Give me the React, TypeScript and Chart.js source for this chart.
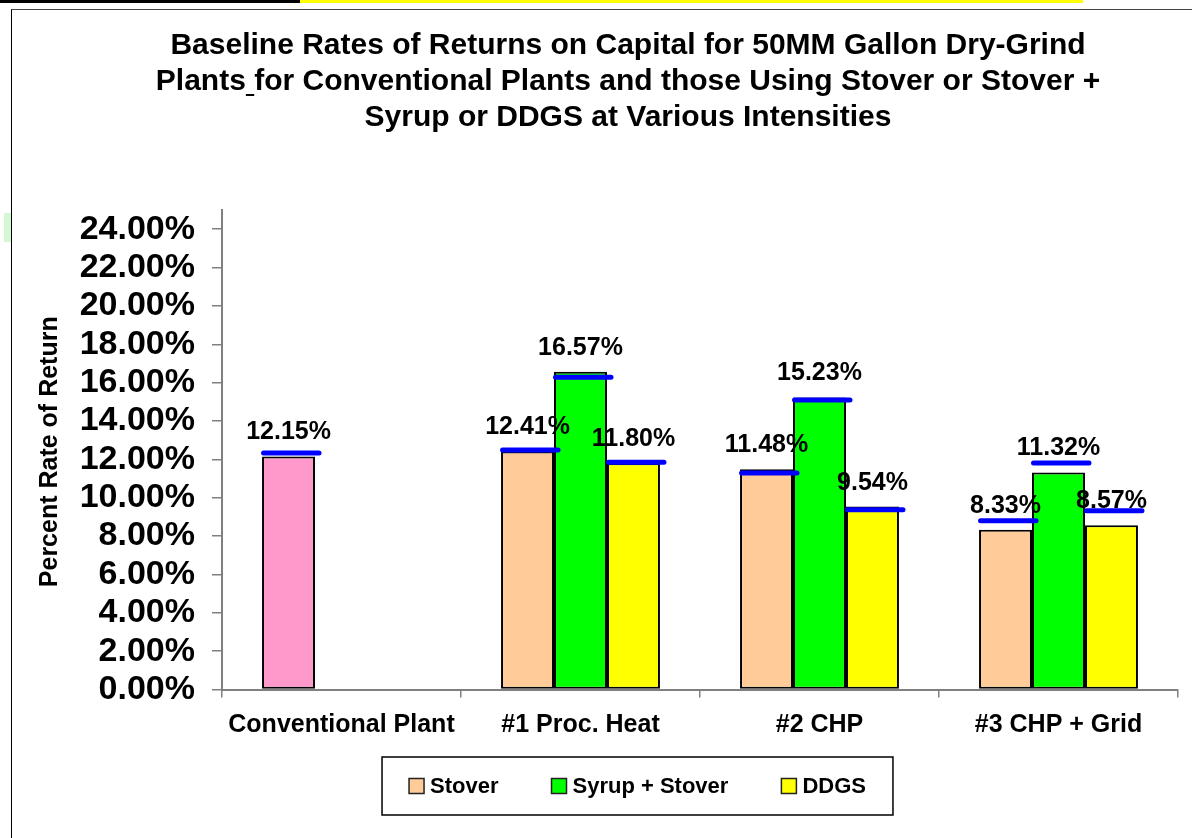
import React, { useEffect, useRef } from 'react';
import { Chart, registerables } from 'chart.js';

Chart.register(...registerables);

// ---------- data ----------
const categories = ['Conventional Plant', '#1 Proc. Heat', '#2 CHP', '#3 CHP + Grid'];
const seriesNames = ['Stover', 'Syrup + Stover', 'DDGS'];
const stoverValues = [12.15, 12.41, 11.48, 8.33];
const syrupStoverValues = [null, 16.57, 15.23, 11.32];
const ddgsValues = [null, 11.8, 9.54, 8.57];
// blue dash markers drawn near the bar tops
const stoverMarkers = [12.33, 12.49, 11.29, 8.8];
const syrupStoverMarkers = [null, 16.28, 15.1, 11.81];
const ddgsMarkers = [null, 11.85, 9.37, 9.32];
const yTickValues = [0, 2, 4, 6, 8, 10, 12, 14, 16, 18, 20, 22, 24];
const titleLines = [
  'Baseline Rates of Returns on Capital for 50MM Gallon Dry-Grind',
  'Plants for Conventional Plants and those Using Stover or Stover +',
  'Syrup or DDGS at Various Intensities',
];
const yAxisTitle = 'Percent Rate of Return';

// ---------- styles ----------
const FONT = "'Liberation Sans', Arial, Helvetica, sans-serif";
const PINK = '#FF99CC';
const PEACH = '#FFCC99';
const GREEN = '#00FF00';
const YELLOW = '#FFFF00';
const BLUE = '#0000FF';
const AXIS_GRAY = '#808080';
const TITLE_SIZE = 30;
const TITLE_PAD_TOP = 28;
const TITLE_LINE = 36;
const legendColors = [PEACH, GREEN, YELLOW];
const markerSets = [stoverMarkers, syrupStoverMarkers, ddgsMarkers];

const fmt = (v: number) => v.toFixed(2) + '%';

const markersPlugin = {
  id: 'blueMarkers',
  afterDatasetsDraw(chart: any) {
    const ctx = chart.ctx;
    const y = chart.scales.y;
    ctx.save();
    ctx.strokeStyle = BLUE;
    ctx.lineWidth = 5;
    ctx.lineCap = 'round';
    markerSets.forEach((set, di) => {
      const meta = chart.getDatasetMeta(di);
      set.forEach((m, i) => {
        if (m == null) return;
        const el = meta.data[i];
        if (!el) return;
        const py = y.getPixelForValue(m);
        ctx.beginPath();
        ctx.moveTo(el.x - el.width / 2 + 1.5, py);
        ctx.lineTo(el.x + el.width / 2 + 4, py);
        ctx.stroke();
      });
    });
    ctx.restore();
  },
};

const labelsPlugin = {
  id: 'valueLabels',
  afterDatasetsDraw(chart: any) {
    const ctx = chart.ctx;
    ctx.save();
    ctx.font = `bold 25px ${FONT}`;
    ctx.fillStyle = '#000';
    ctx.textAlign = 'center';
    ctx.textBaseline = 'alphabetic';
    chart.data.datasets.forEach((ds: any, di: number) => {
      const meta = chart.getDatasetMeta(di);
      ds.data.forEach((v: number | null, i: number) => {
        if (v == null) return;
        const el = meta.data[i];
        ctx.fillText(fmt(v), el.x, el.y - 17);
      });
    });
    ctx.restore();
  },
};

const yTitlePlugin = {
  id: 'yTitle',
  afterDraw(chart: any) {
    const ctx = chart.ctx;
    const a = chart.chartArea;
    ctx.save();
    ctx.translate(57, (a.top + a.bottom) / 2 + 2);
    ctx.rotate(-Math.PI / 2);
    ctx.font = `bold 25px ${FONT}`;
    ctx.fillStyle = '#000';
    ctx.textAlign = 'center';
    ctx.textBaseline = 'alphabetic';
    ctx.fillText(yAxisTitle, 0, 0);
    ctx.restore();
  },
};

const titleUnderlinePlugin = {
  id: 'titleUnderline',
  afterDraw(chart: any) {
    const tb = chart.titleBlock;
    if (!tb) return;
    const ctx = chart.ctx;
    ctx.save();
    ctx.font = `bold ${TITLE_SIZE}px ${FONT}`;
    const line = titleLines[1];
    const w = ctx.measureText(line).width;
    const cx = (tb.left + tb.right) / 2;
    const startX = cx - w / 2 + ctx.measureText('Plants').width;
    const spW = ctx.measureText(' ').width;
    const midY = tb.top + TITLE_PAD_TOP + TITLE_LINE / 2 + TITLE_LINE;
    ctx.fillStyle = '#000';
    ctx.fillRect(startX, midY + 12, spW, 2);
    ctx.restore();
  },
};

const legendPlugin = {
  id: 'boxLegend',
  afterDraw(chart: any) {
    const ctx = chart.ctx;
    ctx.save();
    ctx.font = `bold 22px ${FONT}`;
    const box = 15;
    const gapText = 6;
    const gapItem = 53;
    const padX = 27;
    const widths = seriesNames.map((n) => ctx.measureText(n).width);
    const total =
      widths.reduce((acc, w) => acc + box + gapText + w, 0) + gapItem * (seriesNames.length - 1);
    const cx = 637.5;
    const cy = 786;
    const top = 757;
    const height = 58;
    ctx.strokeStyle = '#000';
    ctx.lineWidth = 1.5;
    ctx.strokeRect(cx - total / 2 - padX, top, total + 2 * padX, height);
    let x = cx - total / 2;
    seriesNames.forEach((name, i) => {
      ctx.fillStyle = legendColors[i];
      ctx.fillRect(x, cy - box / 2, box, box);
      ctx.strokeStyle = '#222';
      ctx.lineWidth = 1.5;
      ctx.strokeRect(x, cy - box / 2, box, box);
      ctx.fillStyle = '#000';
      ctx.textAlign = 'left';
      ctx.textBaseline = 'middle';
      ctx.fillText(name, x + box + gapText, cy + 1);
      x += box + gapText + widths[i] + gapItem;
    });
    ctx.restore();
  },
};

function App() {
  const canvasRef = useRef<HTMLCanvasElement | null>(null);

  useEffect(() => {
    if (!canvasRef.current) return;
    const chart = new Chart(canvasRef.current, {
      type: 'bar',
      data: {
        labels: categories,
        datasets: [
          {
            label: seriesNames[0],
            data: stoverValues,
            backgroundColor: categories.map((_, i) => (i === 0 ? PINK : PEACH)),
            borderColor: '#000',
            borderWidth: 2,
            borderSkipped: false,
          },
          {
            label: seriesNames[1],
            data: syrupStoverValues,
            backgroundColor: GREEN,
            borderColor: '#000',
            borderWidth: 2,
            borderSkipped: false,
          },
          {
            label: seriesNames[2],
            data: ddgsValues,
            backgroundColor: YELLOW,
            borderColor: '#000',
            borderWidth: 2,
            borderSkipped: false,
          },
        ] as any,
      },
      options: {
        responsive: false,
        animation: false,
        devicePixelRatio: 1,
        categoryPercentage: 0.665,
        barPercentage: 1,
        layout: { padding: { left: 78, right: 14, top: 0, bottom: 84.5 } },
        plugins: {
          legend: { display: false },
          tooltip: { enabled: false },
          title: {
            display: true,
            text: titleLines,
            color: '#000',
            font: { family: FONT, size: TITLE_SIZE, weight: 'bold', lineHeight: TITLE_LINE / TITLE_SIZE },
            padding: { top: TITLE_PAD_TOP, bottom: 210 - TITLE_PAD_TOP - 3 * TITLE_LINE },
          },
        },
        scales: {
          x: {
            offset: true,
            grid: {
              offset: true,
              drawOnChartArea: false,
              drawTicks: true,
              tickLength: 8,
              color: AXIS_GRAY,
              lineWidth: 1.5,
            },
            border: { display: true, color: AXIS_GRAY, width: 2 },
            ticks: {
              color: '#000',
              font: { family: FONT, size: 25, weight: 'bold' },
              padding: 13,
              maxRotation: 0,
              autoSkip: false,
            },
          },
          y: {
            min: 0,
            max: 25,
            afterBuildTicks: (axis: any) => {
              axis.ticks = yTickValues.map((v) => ({ value: v }));
            },
            afterFit: (axis: any) => {
              axis.width = 144;
            },
            grid: {
              drawOnChartArea: false,
              drawTicks: true,
              tickLength: 10,
              color: AXIS_GRAY,
              lineWidth: 1.5,
            },
            border: { display: true, color: AXIS_GRAY, width: 2 },
            ticks: {
              color: '#000',
              font: { family: FONT, size: 34, weight: 'bold' },
              padding: 17,
              autoSkip: false,
              callback: (v: any) => fmt(Number(v)),
            },
          },
        },
      } as any,
      plugins: [markersPlugin, labelsPlugin, yTitlePlugin, titleUnderlinePlugin, legendPlugin],
    });
    return () => chart.destroy();
  }, []);

  return (
    <div
      style={{
        position: 'fixed',
        left: 0,
        top: 0,
        width: 1192,
        height: 838,
        background: '#fff',
        overflow: 'hidden',
      }}
    >
      <div style={{ position: 'absolute', left: 0, top: 0, width: 300, height: 3, background: '#000' }} />
      <div style={{ position: 'absolute', left: 300, top: 0, width: 783, height: 3, background: '#FFFF00' }} />
      <div
        style={{
          position: 'absolute',
          left: 11,
          top: 9,
          width: 1300,
          height: 1000,
          borderLeft: '1.5px solid #000',
          borderTop: '1.5px solid #444',
        }}
      />
      <div style={{ position: 'absolute', left: 4, top: 213, width: 7, height: 29, background: '#D4F8D4' }} />
      <canvas
        ref={canvasRef}
        width={1192}
        height={838}
        style={{ position: 'absolute', left: 0, top: 0, display: 'block' }}
      />
    </div>
  );
}

export default App;
